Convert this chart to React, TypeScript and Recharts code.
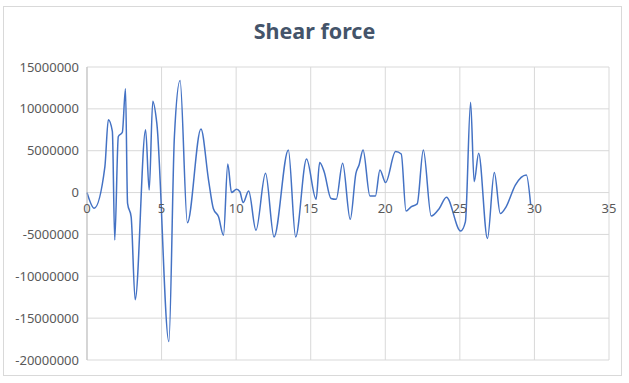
import { LineChart, Line, XAxis, YAxis, CartesianGrid } from "recharts";

// position along the member (x) and the shear force
const positions = [
  0, 0.48, 1.2, 1.43, 1.7, 1.86, 2.1, 2.37, 2.58, 2.72, 2.96, 3.23, 3.93, 4.17, 4.41, 4.68,
  5.49, 5.86, 6.24, 6.73, 7.64, 8.15, 8.47, 8.82, 9.15, 9.44, 9.69, 10.03, 10.25, 10.47, 10.84,
  11.33, 11.97, 12.54, 13.5, 13.99, 14.72, 15.36, 15.6, 15.9, 16.36, 16.71, 17.14, 17.65, 18.03,
  18.24, 18.51, 18.97, 19.34, 19.64, 20.02, 20.69, 21.07, 21.39, 21.73, 22.14, 22.55, 23.08,
  23.62, 24.1, 25.05, 25.37, 25.72, 25.96, 26.26, 26.85, 27.31, 27.71, 28.1, 28.72, 29.46, 29.75,
];
const shear = [
  0, -1870000, 3100000, 8700000, 7300000, -5660000, 6700000, 7200000, 12400000, -1300000,
  -2900000, -12800000, 7500000, 300000, 10900000, 8300000, -17800000, 6700000, 13400000,
  -3600000, 7600000, 1500000, -1900000, -2900000, -5100000, 3400000, 0, 400000, 100000,
  -1200000, 200000, -4500000, 2300000, -5300000, 5100000, -5300000, 4000000, -800000, 3600000,
  2500000, -700000, -800000, 3500000, -3200000, 2300000, 3300000, 5100000, -400000, -400000,
  2700000, 1200000, 4900000, 4600000, -2200000, -1700000, -1350000, 5100000, -2800000,
  -1900000, -560000, -4600000, -3500000, 10800000, 1300000, 4700000, -5500000, 2400000,
  -2500000, -1700000, 900000, 2100000, -1500000,
];
const xTicks = [0, 5, 10, 15, 20, 25, 30, 35];
const yTicks = [-20000000, -15000000, -10000000, -5000000, 0, 5000000, 10000000, 15000000];

const data = positions.map((x, i) => ({ x, v: shear[i] }));

const PLOT_TOP = 67;
const PLOT_BOTTOM = 360;
const Y_MIN = -20000000;
const Y_MAX = 15000000;
// pixel row of y = 0, where Excel puts the horizontal axis labels
const ZERO_Y = PLOT_TOP + ((Y_MAX - 0) / (Y_MAX - Y_MIN)) * (PLOT_BOTTOM - PLOT_TOP);

const FONT = "'Noto Sans', sans-serif";

const renderXTick = (props: any) => {
  const { x, payload } = props;
  return (
    <text x={x} y={ZERO_Y + 16} dy="0.35em" textAnchor="middle" fill="#595959" fontSize={13} fontFamily={FONT}>
      {payload.value}
    </text>
  );
};

export default function App() {
  return (
    <div style={{ position: "absolute", left: 0, top: 0, width: 629, height: 383, background: "#fff" }}>
      <div
        style={{
          position: "absolute", left: 3, top: 6, width: 619, height: 370,
          border: "1px solid #d9d9d9", boxSizing: "border-box",
        }}
      />
      <div
        style={{
          position: "absolute", left: 0, top: 17, width: 629, textAlign: "center",
          fontFamily: FONT, fontSize: 21.5, fontWeight: 700, color: "#44546a", lineHeight: "28px",
        }}
      >
        Shear force
      </div>
      <div style={{ position: "absolute", left: 0, top: 0 }}>
        <LineChart
          width={629}
          height={383}
          data={data}
          margin={{ top: PLOT_TOP, right: 20, bottom: 383 - PLOT_BOTTOM - 10, left: 0 }}
        >
          <CartesianGrid stroke="#d9d9d9" horizontalValues={yTicks} verticalValues={xTicks} />
          <XAxis
            dataKey="x"
            type="number"
            domain={[0, 35]}
            ticks={xTicks}
            height={10}
            axisLine={false}
            tickLine={false}
            tick={renderXTick}
            interval={0}
          />
          <YAxis
            type="number"
            domain={[Y_MIN, Y_MAX]}
            ticks={yTicks}
            width={87}
            interval={0}
            axisLine={{ stroke: "#bfbfbf" }}
            tickLine={false}
            tick={{ fill: "#595959", fontSize: 13, fontFamily: FONT }}
          />
          <Line
            dataKey="v"
            type="monotone"
            stroke="#4472c4"
            strokeWidth={1.5}
            dot={false}
            isAnimationActive={false}
          />
        </LineChart>
      </div>
    </div>
  );
}
